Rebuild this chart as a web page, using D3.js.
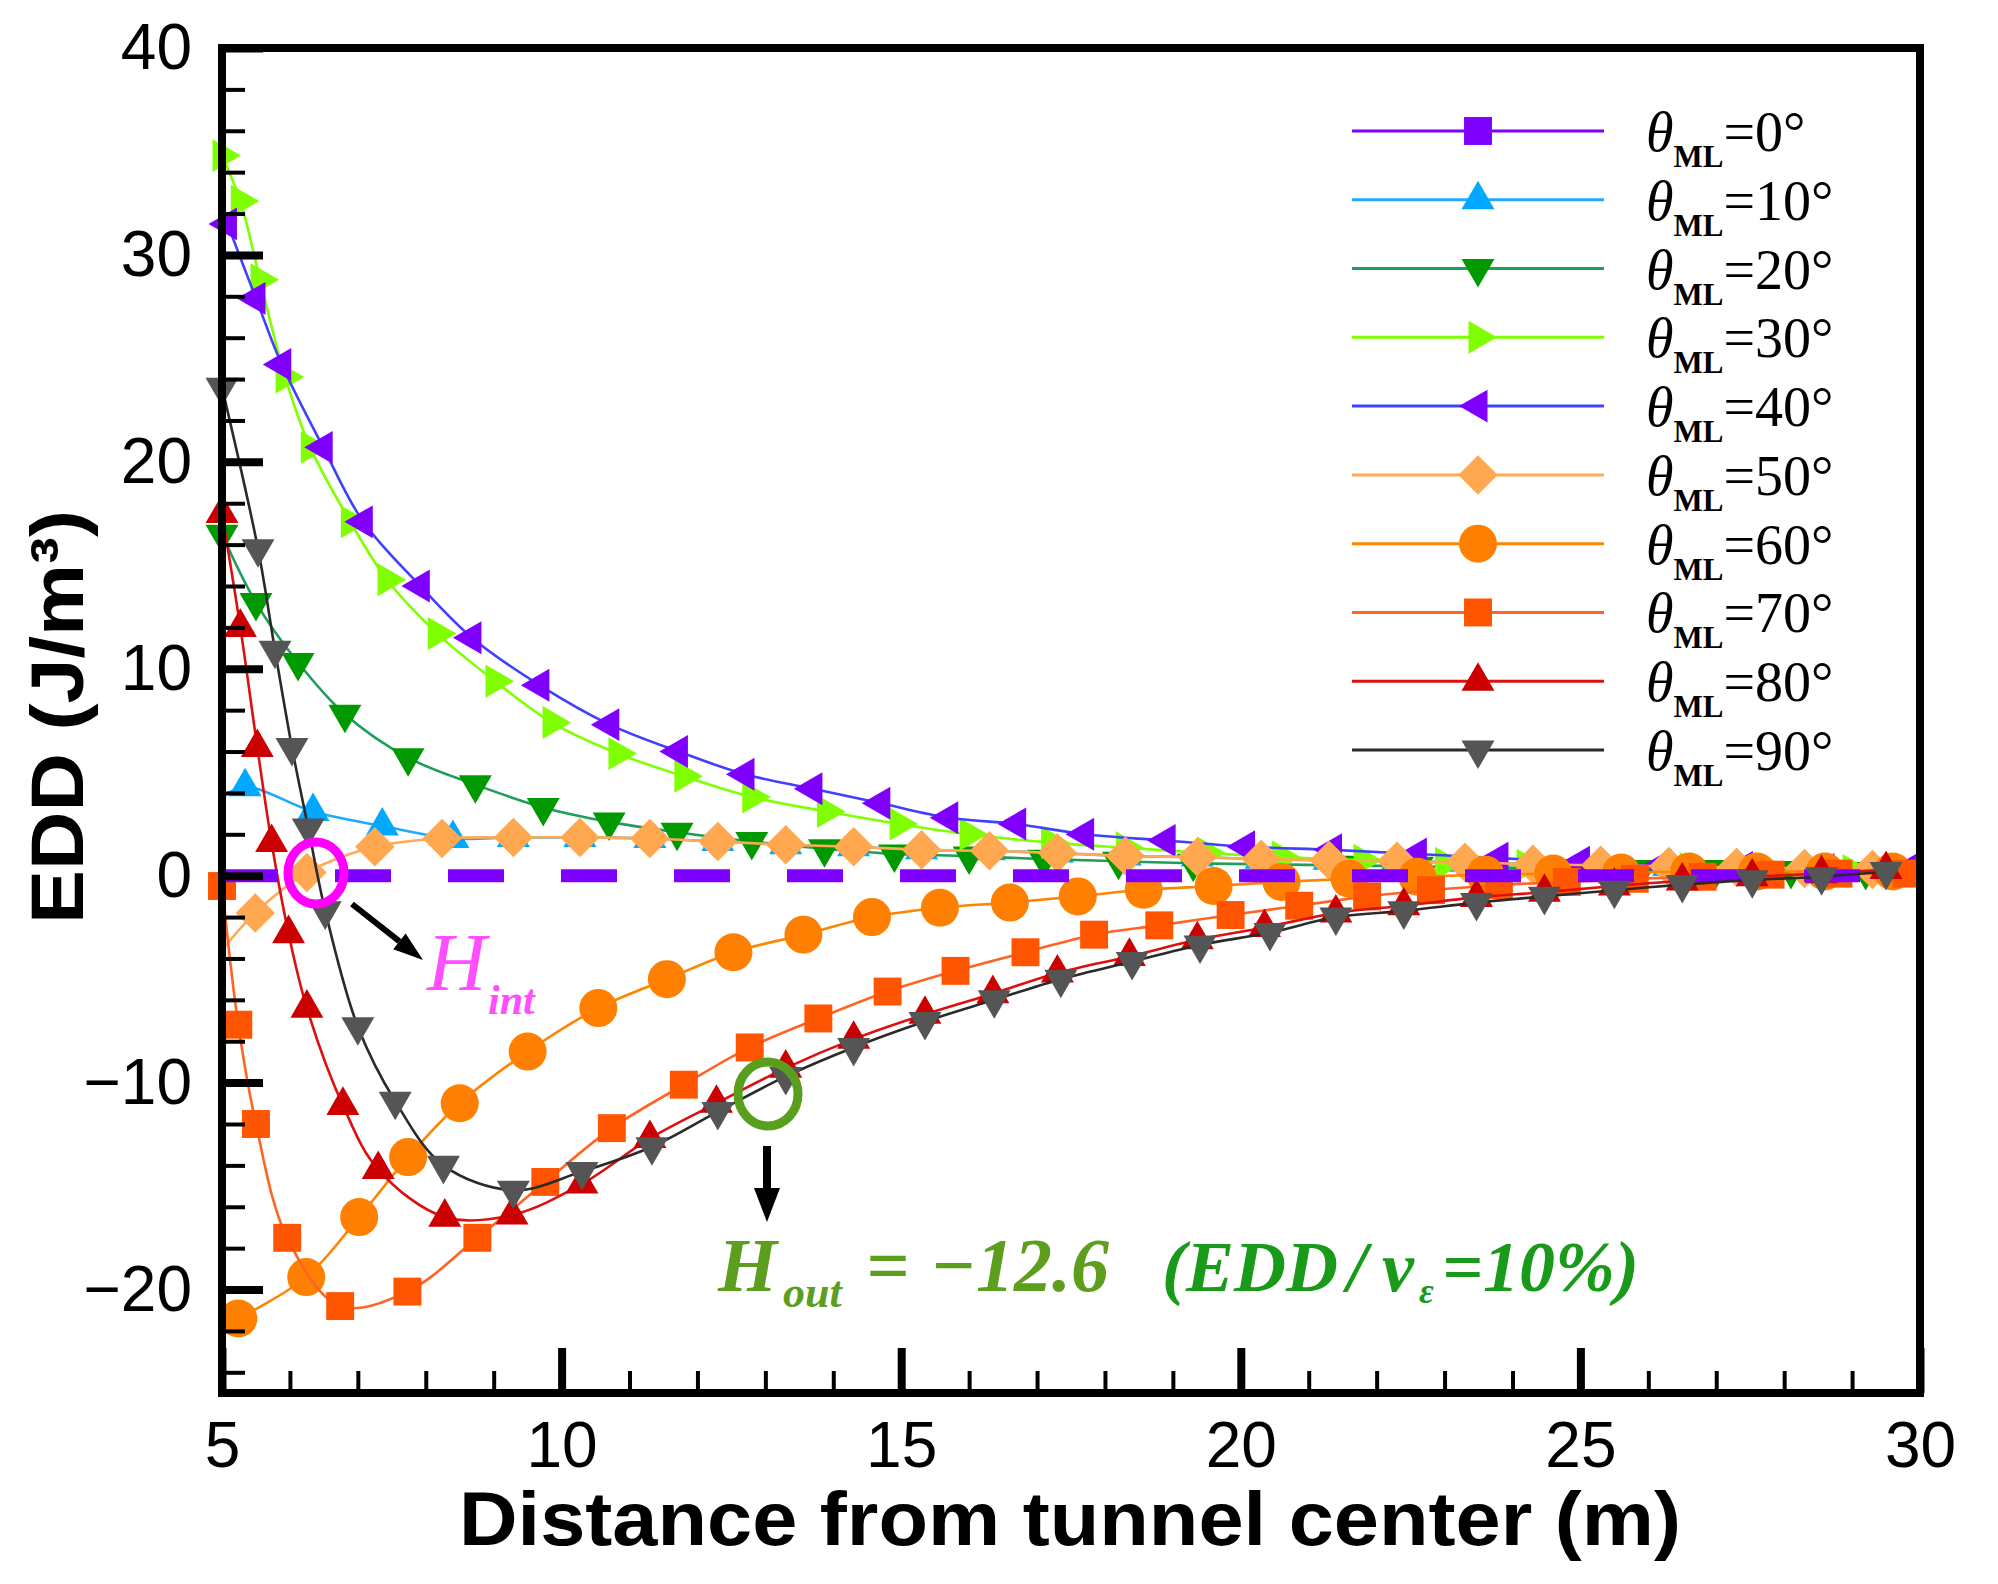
<!DOCTYPE html>
<html>
<head>
<meta charset="utf-8">
<script src="https://cdn.jsdelivr.net/npm/d3@7"></script>
<style>
  body { margin: 0; background: #fff; }
  svg { display: block; }
</style>
</head>
<body>
<svg id="chart" width="1998" height="1584"></svg>
<script>
// ---- data (distance in m, EDD in J/m^3) ----
const angleLabels = ['0', '10', '20', '30', '40', '50', '60', '70', '80', '90'];

const dist0 = [5, 30];
const edd0 = [0, 0];

const dist10 = [5.0, 5.34, 6.34, 7.36, 8.4, 9.29, 10.27, 11.3, 12.3, 13.3, 14.3, 15.3, 16.3, 17.3, 18.3, 19.36, 20.3, 21.3, 22.3, 23.3, 24.3, 25.3, 26.3, 27.3, 28.3, 29.3];
const edd10 = [3.8, 4.3, 3.1, 2.4, 1.8, 1.85, 1.85, 1.8, 1.65, 1.5, 1.4, 1.25, 1.2, 1.1, 0.95, 0.9, 0.8, 0.75, 0.7, 0.65, 0.55, 0.5, 0.45, 0.4, 0.35, 0.3];

const dist20 = [5.0, 5.5, 6.12, 6.81, 7.74, 8.73, 9.73, 10.7, 11.7, 12.8, 13.87, 14.9, 16.0, 17.1, 18.2, 19.3, 20.4, 21.5, 22.6, 23.7, 24.8, 25.9, 27.0, 28.1, 29.2];
const edd20 = [16.5, 13.2, 10.3, 7.8, 5.7, 4.4, 3.3, 2.6, 2.1, 1.65, 1.3, 1.05, 0.95, 0.8, 0.7, 0.6, 0.55, 0.5, 0.45, 0.4, 0.35, 0.3, 0.3, 0.25, 0.2];

const dist30 = [5.0, 5.27, 5.56, 5.93, 6.3, 6.89, 7.43, 8.17, 9.02, 9.86, 10.83, 11.8, 12.8, 13.9, 14.97, 16.0, 17.2, 18.3, 19.5, 20.6, 21.8, 23.0, 24.2, 25.4, 26.6, 27.8, 29.0];
const edd30 = [34.8, 32.6, 28.8, 24.1, 20.7, 17.1, 14.3, 11.7, 9.4, 7.4, 5.9, 4.8, 3.8, 3.1, 2.5, 2.0, 1.6, 1.35, 1.1, 0.9, 0.75, 0.6, 0.5, 0.4, 0.35, 0.3, 0.25];

const dist40 = [5.08, 5.5, 5.88, 6.49, 7.08, 7.92, 8.68, 9.68, 10.71, 11.72, 12.7, 13.7, 14.7, 15.7, 16.7, 17.7, 18.9, 20.07, 21.35, 22.6, 23.8, 25.0, 26.2, 27.4, 28.6, 29.8];
const edd40 = [31.5, 27.9, 24.7, 20.7, 17.1, 14.0, 11.5, 9.2, 7.3, 6.0, 4.9, 4.2, 3.5, 2.8, 2.5, 2.0, 1.7, 1.4, 1.25, 1.05, 0.85, 0.65, 0.5, 0.4, 0.3, 0.25];

const dist50 = [5.0, 5.49, 6.25, 7.25, 8.24, 9.29, 10.27, 11.3, 12.3, 13.3, 14.3, 15.3, 16.3, 17.3, 18.3, 19.36, 20.3, 21.3, 22.3, 23.3, 24.3, 25.3, 26.3, 27.3, 28.3, 29.3];
const edd50 = [-3.6, -1.8, 0.15, 1.4, 1.8, 1.85, 1.85, 1.8, 1.65, 1.5, 1.4, 1.25, 1.2, 1.1, 0.95, 0.9, 0.8, 0.75, 0.7, 0.65, 0.55, 0.5, 0.45, 0.4, 0.35, 0.3];

const dist60 = [5.24, 6.24, 7.02, 7.74, 8.5, 9.5, 10.54, 11.55, 12.53, 13.56, 14.57, 15.57, 16.6, 17.6, 18.57, 19.6, 20.6, 21.6, 22.6, 23.6, 24.6, 25.6, 26.6, 27.6, 28.6, 29.6];
const edd60 = [-21.4, -19.4, -16.5, -13.6, -11.0, -8.5, -6.4, -5.0, -3.7, -2.85, -2.0, -1.55, -1.3, -1.0, -0.68, -0.5, -0.3, -0.15, -0.05, 0.05, 0.1, 0.15, 0.2, 0.2, 0.2, 0.2];

const dist70 = [5.0, 5.24, 5.5, 5.96, 6.74, 7.73, 8.76, 9.76, 10.74, 11.8, 12.77, 13.78, 14.8, 15.8, 16.83, 17.84, 18.8, 19.85, 20.86, 21.86, 22.8, 23.8, 24.8, 25.8, 26.8, 27.8, 28.8, 29.8];
const edd70 = [-0.5, -7.2, -12.0, -17.5, -20.8, -20.1, -17.5, -14.8, -12.2, -10.1, -8.3, -6.9, -5.6, -4.6, -3.7, -2.85, -2.4, -1.9, -1.45, -1.0, -0.7, -0.45, -0.3, -0.15, -0.05, 0.05, 0.1, 0.1];

const dist80 = [5.0, 5.27, 5.52, 5.73, 5.98, 6.25, 6.78, 7.3, 8.28, 9.27, 10.3, 11.3, 12.28, 13.3, 14.3, 15.35, 16.35, 17.3, 18.36, 19.36, 20.35, 21.4, 22.4, 23.47, 24.47, 25.5, 26.5, 27.53, 28.55, 29.5];
const edd80 = [17.5, 12.0, 6.2, 1.6, -2.8, -6.4, -11.1, -14.2, -16.5, -16.4, -14.9, -12.7, -11.0, -9.3, -7.9, -6.7, -5.7, -4.7, -3.9, -3.1, -2.5, -1.8, -1.45, -1.05, -0.8, -0.5, -0.25, -0.05, 0.1, 0.3];

const dist90 = [5.0, 5.53, 5.78, 6.03, 6.27, 6.52, 7.0, 7.55, 8.26, 9.29, 10.3, 11.33, 12.3, 13.3, 14.3, 15.35, 16.37, 17.35, 18.4, 19.4, 20.43, 21.4, 22.4, 23.47, 24.47, 25.5, 26.5, 27.53, 28.55, 29.5];
const edd90 = [23.6, 15.8, 10.9, 6.2, 2.3, -1.7, -7.3, -10.9, -14.0, -15.2, -14.3, -13.1, -11.4, -9.7, -8.3, -7.05, -6.0, -5.0, -4.15, -3.35, -2.75, -2.0, -1.7, -1.3, -1.0, -0.7, -0.43, -0.2, -0.05, 0.2];

const xTicks = [5, 10, 15, 20, 25, 30];
const yTicks = [-20, -10, 0, 10, 20, 30, 40];

// ---- styling per series ----
const series = [
  {id: '10', xs: dist10, ys: edd10, line: '#1eaaff', fill: '#00a8ff', shape: 'up',      skipFirst: true},
  {id: '20', xs: dist20, ys: edd20, line: '#1f9e5a', fill: '#009a00', shape: 'down'},
  {id: '30', xs: dist30, ys: edd30, line: '#80ff00', fill: '#80ff00', shape: 'right'},
  {id: '40', xs: dist40, ys: edd40, line: '#4040ff', fill: '#7f00ff', shape: 'left'},
  {id: '50', xs: dist50, ys: edd50, line: '#ffaa55', fill: '#ffa850', shape: 'diamond', skipFirst: true},
  {id: '60', xs: dist60, ys: edd60, line: '#ff8400', fill: '#ff8000', shape: 'circle'},
  {id: '70', xs: dist70, ys: edd70, line: '#ff6422', fill: '#ff5500', shape: 'square'},
  {id: '80', xs: dist80, ys: edd80, line: '#dd1010', fill: '#cc0000', shape: 'up'},
  {id: '90', xs: dist90, ys: edd90, line: '#2a2a2a', fill: '#555555', shape: 'down'}
];
const legendStyle = {
  '0':  {line: '#7f00ff', fill: '#7f00ff', shape: 'square'}
};
series.forEach(s => legendStyle[s.id] = s);

const svg = d3.select('#chart');
const x = d3.scaleLinear().domain([5, 30]).range([222, 1920]);
const y = d3.scaleLinear().domain([-25, 40]).range([1393, 48]);

const lineGen = d3.line()
  .x(d => x(d[0]))
  .y(d => y(d[1]))
  .curve(d3.curveCatmullRom.alpha(0.5));

const symSquare = d3.symbol(d3.symbolSquare, 780)();
const symCircle = d3.symbol(d3.symbolCircle, 1134)();
const symTri = d3.symbol(d3.symbolTriangle, 470)();
const rotation = {up: 0, down: 180, left: -90, right: 90, diamond: 45, square: 0, circle: 0};
function markerPath(shape) {
  if (shape === 'circle') return symCircle;
  if (shape === 'square' || shape === 'diamond') return symSquare;
  return symTri;
}

// ---- curves ----
const plot = svg.append('g');

function drawSeries(s) {
  const pts = s.xs.map((v, i) => [v, s.ys[i]]);
  plot.append('path')
    .attr('d', lineGen(pts))
    .attr('fill', 'none')
    .attr('stroke', s.line)
    .attr('stroke-width', 2.6);
  plot.append('g').selectAll('path')
    .data(s.skipFirst ? pts.slice(1) : pts)
    .join('path')
    .attr('d', markerPath(s.shape))
    .attr('transform', d => `translate(${x(d[0])},${y(d[1])}) rotate(${rotation[s.shape]})`)
    .attr('fill', s.fill);
}

series.slice(0, 8).forEach(drawSeries);

// theta = 0 : flat dashed line on zero
plot.append('path')
  .attr('d', lineGen(dist0.map((v, i) => [v, edd0[i]])))
  .attr('fill', 'none')
  .attr('stroke', '#7f00ff')
  .attr('stroke-width', 13)
  .attr('stroke-dasharray', '56 57');

drawSeries(series[8]);

// ---- annotations ----
const ann = svg.append('g');
ann.append('ellipse')
  .attr('cx', 316).attr('cy', 873).attr('rx', 28).attr('ry', 31)
  .attr('fill', 'none').attr('stroke', '#ff00ff').attr('stroke-width', 9);
ann.append('ellipse')
  .attr('cx', 768).attr('cy', 1094).attr('rx', 30).attr('ry', 32)
  .attr('fill', 'none').attr('stroke', '#5a9e1e').attr('stroke-width', 9);

function arrow(x1, y1, x2, y2, w, headLen, headW) {
  const a = Math.atan2(y2 - y1, x2 - x1);
  const bx = x2 - headLen * Math.cos(a), by = y2 - headLen * Math.sin(a);
  ann.append('line')
    .attr('x1', x1).attr('y1', y1).attr('x2', bx).attr('y2', by)
    .attr('stroke', '#000').attr('stroke-width', w);
  const px = Math.sin(a) * headW / 2, py = -Math.cos(a) * headW / 2;
  ann.append('path')
    .attr('d', `M${x2},${y2}L${bx + px},${by + py}L${bx - px},${by - py}Z`)
    .attr('fill', '#000');
}
arrow(352, 904, 423, 960, 6, 30, 20);
arrow(767, 1146, 767, 1222, 8, 34, 26);

// H_int
const hint = ann.append('text')
  .attr('x', 427).attr('y', 990)
  .attr('font-family', 'Liberation Serif, Times New Roman, serif')
  .attr('fill', '#ff4dff');
hint.append('tspan').attr('font-style', 'italic').attr('font-size', 82).text('H');
hint.append('tspan').attr('x', 488).attr('dy', 24).attr('font-style', 'italic')
  .attr('font-weight', 'bold').attr('font-size', 42).text('int');

// H_out
const hout = ann.append('text')
  .attr('y', 1291)
  .attr('font-family', 'Liberation Serif, Times New Roman, serif')
  .attr('font-style', 'italic').attr('font-weight', 'bold')
  .attr('font-size', 76);
hout.append('tspan').attr('x', 718).attr('fill', '#5e9e1e').text('H');
hout.append('tspan').attr('x', 783).attr('dy', 16).attr('font-size', 44).attr('fill', '#5e9e1e').text('out');
hout.append('tspan').attr('x', 866).attr('dy', -16).attr('fill', '#5e9e1e').text('=');
hout.append('tspan').attr('x', 930).attr('fill', '#5e9e1e').text('\u221212.6');
hout.append('tspan').attr('x', 1162).attr('font-size', 72).attr('fill', '#1a9a1a').text('(EDD');
hout.append('tspan').attr('x', 1347).attr('font-size', 72).attr('fill', '#1a9a1a').text('/');
hout.append('tspan').attr('x', 1382).attr('font-size', 72).attr('fill', '#1a9a1a').text('v');
hout.append('tspan').attr('x', 1419).attr('dy', 12).attr('font-size', 36).attr('fill', '#1a9a1a').text('\u03b5');
hout.append('tspan').attr('x', 1442).attr('dy', -12).attr('font-size', 72).attr('fill', '#1a9a1a').text('=10%)');

// ---- axes and frame ----
const fmt = d => d < 0 ? '\u2212' + Math.abs(d) : String(d);
const axisFont = 'Liberation Sans, Arial, sans-serif';

svg.append('rect')
  .attr('x', x(5)).attr('y', y(40))
  .attr('width', x(30) - x(5)).attr('height', y(-25) - y(40))
  .attr('fill', 'none').attr('stroke', '#000').attr('stroke-width', 8);

const yMinor = d3.range(-24, 40, 2).filter(v => v % 10 !== 0);
const xMinor = d3.range(6, 30, 1).filter(v => v % 5 !== 0);

svg.append('g').attr('transform', `translate(${x(5)},0)`)
  .call(d3.axisLeft(y).tickValues(yMinor).tickSize(-23).tickFormat(''))
  .call(g => g.select('.domain').remove())
  .call(g => g.selectAll('line').attr('stroke-width', 4));

svg.append('g').attr('transform', `translate(${x(5)},0)`)
  .call(d3.axisLeft(y).tickValues(yTicks).tickSize(-41).tickPadding(30).tickFormat(fmt))
  .call(g => g.select('.domain').remove())
  .call(g => g.selectAll('line').attr('stroke-width', 8))
  .call(g => g.selectAll('text').attr('font-family', axisFont).attr('font-size', 64).attr('fill', '#000'));

svg.append('g').attr('transform', `translate(0,${y(-25)})`)
  .call(d3.axisBottom(x).tickValues(xMinor).tickSize(-22).tickFormat(''))
  .call(g => g.select('.domain').remove())
  .call(g => g.selectAll('line').attr('stroke-width', 4));

svg.append('g').attr('transform', `translate(0,${y(-25)})`)
  .call(d3.axisBottom(x).tickValues(xTicks).tickSize(-45).tickPadding(29).tickFormat(fmt))
  .call(g => g.select('.domain').remove())
  .call(g => g.selectAll('line').attr('stroke-width', 8))
  .call(g => g.selectAll('text').attr('font-family', axisFont).attr('font-size', 64).attr('fill', '#000'));

// axis titles
svg.append('text')
  .attr('x', 1070).attr('y', 1545)
  .attr('text-anchor', 'middle')
  .attr('font-family', axisFont).attr('font-weight', 'bold').attr('font-size', 76)
  .attr('textLength', 1222).attr('lengthAdjust', 'spacingAndGlyphs')
  .text('Distance from tunnel center (m)');

svg.append('text')
  .attr('transform', 'translate(83,717) rotate(-90)')
  .attr('text-anchor', 'middle')
  .attr('font-family', axisFont).attr('font-weight', 'bold').attr('font-size', 74)
  .attr('textLength', 414).attr('lengthAdjust', 'spacingAndGlyphs')
  .text('EDD (J/m\u00b3)');

// ---- legend ----
const ly = d3.scaleLinear().domain([0, 9]).range([131, 750]);
const legend = svg.append('g');
angleLabels.forEach((lab, i) => {
  const st = legendStyle[lab];
  const cy = ly(i);
  legend.append('line')
    .attr('x1', 1352).attr('x2', 1604).attr('y1', cy).attr('y2', cy)
    .attr('stroke', st.line).attr('stroke-width', 3);
  legend.append('path')
    .attr('d', markerPath(st.shape))
    .attr('transform', `translate(1478,${cy}) rotate(${rotation[st.shape]})`)
    .attr('fill', st.fill);
  const t = legend.append('text')
    .attr('x', 1646).attr('y', cy + 20)
    .attr('font-family', 'Liberation Serif, Times New Roman, serif')
    .attr('font-size', 56).attr('fill', '#000');
  t.append('tspan').attr('font-style', 'italic').text('\u03b8');
  t.append('tspan').attr('font-size', 31).attr('font-weight', 'bold').attr('dy', 16).text('ML');
  t.append('tspan').attr('dy', -16).text('=' + lab + '\u00b0');
});
</script>
</body>
</html>
